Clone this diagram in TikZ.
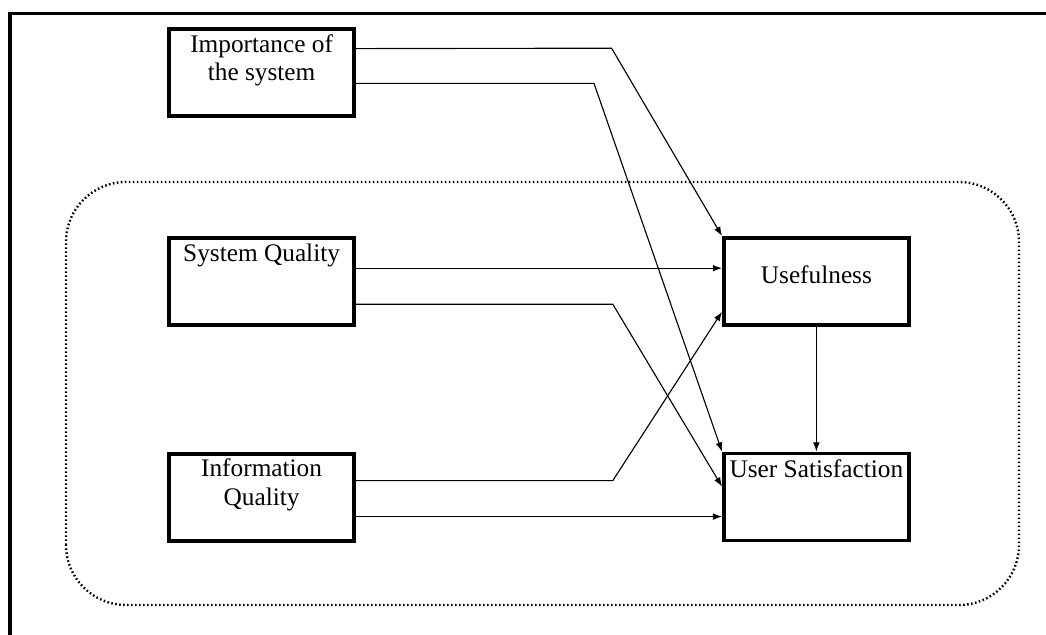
\documentclass[tikz,border=0pt]{standalone}
\usepackage{fontspec}
\setmainfont{Liberation Serif}
\usetikzlibrary{arrows.meta}
\tikzset{
	box/.style={draw, line width=0.9mm, minimum width=4.63cm, minimum height=2.18cm, inner sep=0pt},
	boxtext/.style={anchor=north, inner sep=0pt, align=center, font=\fontsize{18}{20}\selectfont},
	arr/.style={line width=0.8pt, -{Latex[length=2.3mm,width=1.7mm]}},
	dotframe/.style={line width=0.6mm, dash pattern=on 0.4mm off 0.6mm}
}

\begin{document}
\begin{tikzpicture}
			%%%%% START %%%%%
			\useasboundingbox (0, 0) rectangle (26.15, 15.875);
			
			% outer frame (top and left edge only)
			\draw[line width=0.85mm] (0.25, 0) -- (0.25, 15.54) -- (26.15, 15.54);
			
			% dotted group
			\draw[dotframe, rounded corners=1.5cm] (1.65, 0.75) rectangle (25.475, 11.325);
			
			% boxes
			\node[box] (imp) at (6.54, 14.06) {};
			\node[box] (sysq) at (6.54, 8.84) {};
			\node[box] (infq) at (6.54, 3.44) {};
			\node[box] (use) at (20.41, 8.84) {};
			\node[box] (sat) at (20.41, 3.45) {};
			
			\node[boxtext] (imptxt) at ([yshift=-0.17cm]imp.north) {Importance of\\the system};
			\node[boxtext] (sysqtxt) at ([yshift=-0.19cm]sysq.north) {System Quality};
			\node[boxtext] (infqtxt) at ([yshift=-0.17cm]infq.north) {Information\\Quality};
			\node[boxtext] (usetxt) at ([yshift=-0.74cm]use.north) {Usefulness};
			\node[boxtext] (sattxt) at ([yshift=-0.19cm]sat.north) {User Satisfaction};
			
			% importance of the system
			\draw[arr] ([yshift=0.6cm]imp.east) -- (15.29, 14.67) -- (use.north west);
			\draw[arr] ([yshift=-0.27cm]imp.east) -- (14.85, 13.79) -- (sat.north west);
			
			% system quality
			\draw[arr] ([yshift=0.33cm]sysq.east) -- ([yshift=0.33cm]use.west);
			\draw[arr] ([yshift=-0.57cm]sysq.east) -- (15.32, 8.27) -- ([yshift=0.26cm]sat.west);
			
			% information quality
			\draw[arr] ([yshift=0.42cm]infq.east) -- (15.32, 3.86) -- ([yshift=-0.76cm]use.west);
			\draw[arr] ([yshift=-0.48cm]infq.east) -- ([yshift=-0.48cm]infq.east -| sat.west);
			
			% usefulness -> user satisfaction
			\draw[arr] (use.south) -- (sat.north);
			
			%%%%% END %%%%%
		\end{tikzpicture}
\end{document}
